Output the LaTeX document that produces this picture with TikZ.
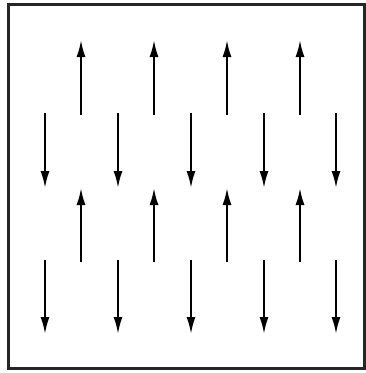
\documentclass[tikz,border=0pt]{standalone}
\usetikzlibrary{arrows.meta}
\begin{document}
\begin{tikzpicture}[x=1pt,y=-1pt,
  vec/.style={line width=2pt,-{Latex[length=17pt,width=9pt]}},
  frame/.style={line width=3pt,draw=black!85}]
\useasboundingbox (0,0) rectangle (366,373);
\draw[frame] (8,4) rectangle (364,368);
% row 1: up
\foreach \i/\x in {1/81,2/154,3/227,4/300}{
  \coordinate (ua\i) at (\x,115);
  \coordinate (ub\i) at (\x,40);
  \draw[vec] (ua\i) -- (ub\i);
}
% row 2: down
\foreach \i/\x in {1/45,2/118,3/191,4/264,5/336}{
  \coordinate (da\i) at (\x,113);
  \coordinate (db\i) at (\x,188);
  \draw[vec] (da\i) -- (db\i);
}
% row 3: up
\foreach \i/\x in {1/81,2/154,3/227,4/300}{
  \coordinate (uc\i) at (\x,262);
  \coordinate (ud\i) at (\x,188);
  \draw[vec] (uc\i) -- (ud\i);
}
% row 4: down
\foreach \i/\x in {1/45,2/118,3/191,4/264,5/336}{
  \coordinate (dc\i) at (\x,260);
  \coordinate (dd\i) at (\x,334);
  \draw[vec] (dc\i) -- (dd\i);
}
\end{tikzpicture}
\end{document}
